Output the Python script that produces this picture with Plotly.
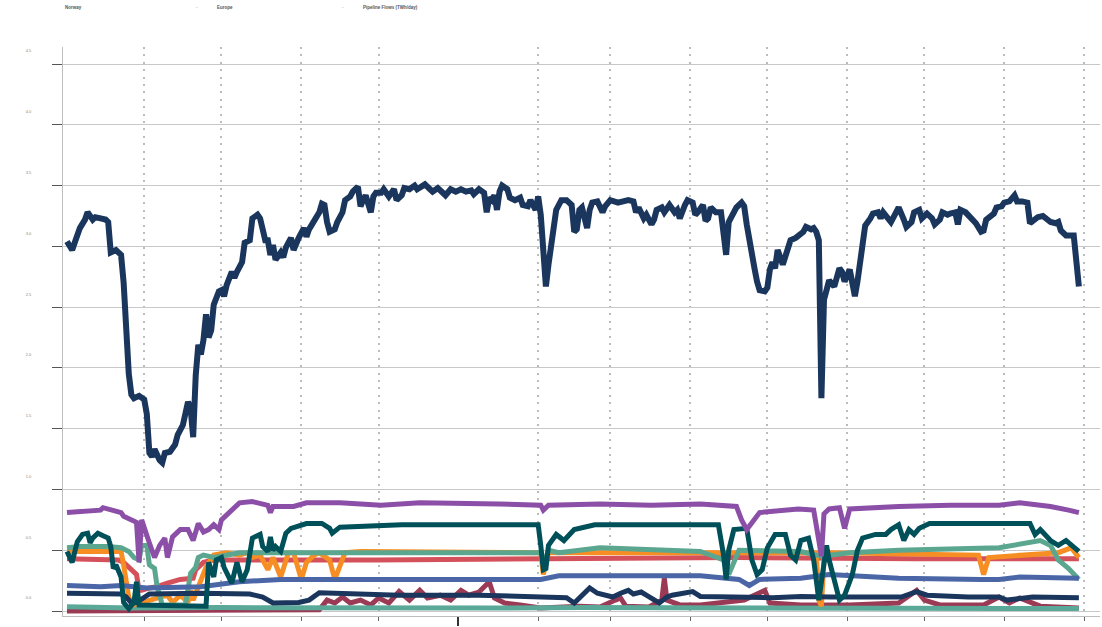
import pandas as pd
import plotly.graph_objects as go

# Daily pipeline flows from Norway to Europe (TWh/day); days counted from the start date
START = pd.Timestamp("2020-08-02")

total_days = [0, 2, 5, 7, 8, 10, 11, 13, 15, 16, 17, 19, 21, 22, 23, 24, 25, 26, 28, 30,
              31, 32, 33, 34, 36, 37, 38, 40, 42, 43, 45, 46, 47, 48, 49, 50, 51, 52, 53, 54,
              55, 56, 57, 59, 60, 61, 62, 64, 65, 66, 68, 69, 71, 72, 74, 75, 77, 78, 79, 80,
              81, 83, 84, 85, 87, 88, 89, 90, 92, 93, 94, 96, 98, 99, 100, 101, 102, 104, 105, 107,
              108, 110, 111, 113, 114, 115, 116, 118, 119, 120, 122, 123, 125, 127, 128, 130, 131, 133, 135, 136,
              138, 139, 141, 142, 144, 146, 147, 149, 151, 153, 155, 157, 158, 160, 162, 163, 164, 165, 166, 167,
              168, 169, 171, 172, 174, 176, 177, 179, 180, 182, 183, 184, 185, 186, 187, 188, 189, 190, 192, 194,
              196, 197, 198, 199, 200, 202, 203, 204, 206, 208, 209, 211, 214, 216, 218, 220, 221, 222, 224, 225,
              227, 228, 229, 231, 232, 234, 236, 237, 238, 240, 241, 243, 244, 245, 247, 248, 249, 250, 252, 254,
              255, 256, 257, 259, 260, 262, 263, 264, 266, 267, 268, 269, 271, 272, 273, 274, 275, 276, 278, 279,
              280, 281, 283, 284, 286, 287, 289, 290, 291, 292, 293, 294, 295, 296, 298, 299, 300, 301, 302, 304,
              305, 306, 307, 309, 310, 312, 313, 315, 316, 317, 319, 320, 322, 323, 325, 326, 328, 329, 331, 332,
              334, 336, 337, 339, 340, 342, 343, 345, 346, 347, 349, 351, 353, 355, 356, 357, 360, 361, 363, 364,
              366, 368, 369, 371, 373, 374, 375, 377, 379, 381, 382, 384, 385, 386, 388, 391, 393]
total_vals = [3.04, 2.97, 3.15, 3.22, 3.28, 3.22, 3.24, 3.23, 3.22, 3.20, 2.95, 2.97, 2.93, 2.70, 2.30, 1.95, 1.78, 1.75, 1.77, 1.74,
              1.62, 1.30, 1.27, 1.33, 1.24, 1.22, 1.30, 1.31, 1.37, 1.45, 1.53, 1.65, 1.72, 1.67, 1.43, 1.94, 2.19, 2.11, 2.23, 2.44,
              2.25, 2.31, 2.52, 2.63, 2.64, 2.59, 2.68, 2.79, 2.74, 2.79, 2.87, 3.03, 3.05, 3.23, 3.26, 3.23, 3.05, 3.05, 2.93, 3.01,
              2.89, 2.95, 2.91, 2.99, 3.07, 2.97, 3.03, 3.07, 3.15, 3.08, 3.14, 3.20, 3.28, 3.35, 3.34, 3.20, 3.12, 3.14, 3.20, 3.28,
              3.38, 3.41, 3.45, 3.49, 3.33, 3.38, 3.42, 3.28, 3.41, 3.44, 3.44, 3.47, 3.41, 3.47, 3.38, 3.42, 3.48, 3.47, 3.50, 3.47,
              3.49, 3.51, 3.47, 3.45, 3.48, 3.45, 3.42, 3.47, 3.45, 3.47, 3.45, 3.46, 3.43, 3.47, 3.44, 3.28, 3.40, 3.38, 3.42, 3.30,
              3.45, 3.50, 3.47, 3.40, 3.38, 3.40, 3.34, 3.33, 3.38, 3.30, 3.41, 3.26, 2.97, 2.67, 2.85, 3.01, 3.15, 3.30, 3.38, 3.38,
              3.34, 3.12, 3.14, 3.30, 3.32, 3.15, 3.30, 3.36, 3.37, 3.28, 3.33, 3.38, 3.36, 3.37, 3.38, 3.37, 3.28, 3.32, 3.23, 3.26,
              3.18, 3.22, 3.30, 3.32, 3.28, 3.34, 3.28, 3.30, 3.23, 3.34, 3.38, 3.36, 3.26, 3.28, 3.34, 3.21, 3.23, 3.32, 3.28, 3.28,
              3.05, 2.93, 3.20, 3.28, 3.32, 3.36, 3.33, 3.18, 2.89, 2.82, 2.71, 2.64, 2.63, 2.66, 2.81, 2.87, 2.82, 2.97, 2.85, 2.91,
              2.97, 3.05, 3.07, 3.09, 3.12, 3.16, 3.14, 3.15, 3.12, 3.05, 1.75, 2.56, 2.66, 2.72, 2.67, 2.74, 2.82, 2.79, 2.71, 2.81,
              2.66, 2.59, 2.71, 2.97, 3.17, 3.23, 3.27, 3.28, 3.23, 3.28, 3.22, 3.20, 3.28, 3.32, 3.22, 3.16, 3.20, 3.28, 3.30, 3.23,
              3.27, 3.23, 3.18, 3.22, 3.28, 3.26, 3.27, 3.28, 3.18, 3.30, 3.28, 3.24, 3.19, 3.12, 3.13, 3.22, 3.27, 3.32, 3.33, 3.36,
              3.37, 3.42, 3.37, 3.37, 3.36, 3.19, 3.21, 3.24, 3.25, 3.22, 3.20, 3.19, 3.20, 3.13, 3.09, 3.09, 2.67]

purple_days = [0, 5, 13, 14, 21, 22, 26, 27, 28, 29, 32, 34, 36, 38, 39, 41, 44, 47, 49, 51,
               53, 55, 57, 59, 60, 62, 65, 67, 72, 78, 79, 80, 88, 93, 106, 122, 137, 153, 168, 184,
               185, 187, 207, 227, 246, 260, 262, 264, 266, 268, 269, 284, 290, 292, 293, 294, 296, 300, 302, 304,
               323, 343, 362, 370, 382, 389, 393]
purple_vals = [0.81, 0.82, 0.83, 0.85, 0.81, 0.78, 0.74, 0.73, 0.40, 0.75, 0.56, 0.44, 0.54, 0.60, 0.44, 0.61, 0.67, 0.67, 0.58, 0.72,
               0.65, 0.67, 0.71, 0.67, 0.75, 0.79, 0.86, 0.89, 0.90, 0.87, 0.81, 0.86, 0.86, 0.89, 0.89, 0.87, 0.89, 0.89, 0.88, 0.87,
               0.83, 0.87, 0.88, 0.87, 0.88, 0.86, 0.75, 0.67, 0.73, 0.79, 0.81, 0.84, 0.83, 0.58, 0.45, 0.80, 0.84, 0.85, 0.68, 0.84,
               0.86, 0.87, 0.87, 0.89, 0.86, 0.83, 0.81]

deep_teal_days = [0, 2, 4, 6, 8, 9, 10, 12, 14, 16, 17, 18, 19, 21, 22, 24, 26, 27, 28, 54,
                  55, 57, 58, 60, 61, 63, 64, 66, 67, 68, 70, 72, 75, 76, 78, 79, 80, 81, 83, 84,
                  85, 87, 89, 93, 99, 102, 103, 105, 106, 130, 160, 183, 184, 185, 186, 187, 190, 193, 197, 205,
                  230, 253, 255, 256, 257, 259, 264, 266, 268, 270, 272, 275, 279, 281, 283, 285, 288, 290, 292, 293,
                  295, 296, 298, 300, 302, 305, 307, 309, 314, 318, 320, 323, 325, 327, 329, 331, 335, 355, 374, 376,
                  378, 382, 385, 388, 390, 393]
deep_teal_vals = [0.49, 0.40, 0.57, 0.63, 0.64, 0.56, 0.60, 0.64, 0.62, 0.60, 0.53, 0.35, 0.38, 0.28, 0.07, 0.02, 0.07, 0.24, 0.05, 0.04,
                  0.40, 0.28, 0.42, 0.44, 0.36, 0.26, 0.23, 0.40, 0.31, 0.24, 0.34, 0.60, 0.63, 0.53, 0.49, 0.61, 0.50, 0.53, 0.49, 0.57,
                  0.64, 0.68, 0.69, 0.72, 0.72, 0.68, 0.64, 0.67, 0.69, 0.71, 0.71, 0.71, 0.54, 0.34, 0.35, 0.54, 0.63, 0.58, 0.67, 0.71,
                  0.71, 0.71, 0.46, 0.26, 0.50, 0.67, 0.68, 0.42, 0.30, 0.34, 0.52, 0.63, 0.63, 0.46, 0.42, 0.58, 0.60, 0.42, 0.09, 0.26,
                  0.54, 0.42, 0.27, 0.09, 0.13, 0.30, 0.50, 0.60, 0.63, 0.63, 0.67, 0.71, 0.58, 0.67, 0.63, 0.68, 0.72, 0.72, 0.72, 0.63,
                  0.67, 0.58, 0.54, 0.58, 0.54, 0.49]

sea_green_days = [0, 5, 16, 21, 24, 26, 28, 29, 31, 32, 34, 35, 37, 44, 46, 48, 50, 51, 53, 57,
                  61, 67, 100, 140, 184, 185, 187, 191, 207, 246, 255, 257, 261, 285, 293, 304, 323, 362, 378, 382,
                  385, 389, 393]
sea_green_vals = [0.52, 0.53, 0.53, 0.52, 0.49, 0.44, 0.42, 0.54, 0.54, 0.38, 0.35, 0.20, 0.05, 0.05, 0.05, 0.31, 0.36, 0.44, 0.46, 0.44,
                  0.46, 0.48, 0.48, 0.48, 0.48, 0.38, 0.50, 0.48, 0.52, 0.49, 0.42, 0.30, 0.50, 0.49, 0.45, 0.48, 0.50, 0.52, 0.58, 0.54,
                  0.42, 0.35, 0.26]

orange_days = [0, 21, 22, 23, 24, 26, 39, 41, 44, 47, 48, 49, 52, 54, 57, 62, 67, 70, 72, 75,
               78, 80, 83, 86, 88, 91, 93, 96, 98, 102, 104, 106, 108, 114, 184, 185, 187, 291, 292, 293,
               294, 296, 354, 356, 358, 385, 390, 393]
orange_vals = [0.49, 0.49, 0.38, 0.23, 0.11, 0.05, 0.13, 0.07, 0.13, 0.07, 0.17, 0.09, 0.26, 0.36, 0.46, 0.48, 0.46, 0.48, 0.44, 0.46,
               0.34, 0.44, 0.28, 0.48, 0.48, 0.26, 0.40, 0.46, 0.48, 0.42, 0.26, 0.38, 0.48, 0.49, 0.48, 0.30, 0.48, 0.48, 0.09, 0.04,
               0.42, 0.48, 0.46, 0.30, 0.44, 0.48, 0.52, 0.44]

red_days = [0, 20, 22, 25, 27, 28, 29, 32, 35, 39, 44, 49, 50, 53, 57, 120, 190, 260, 330, 393]
red_vals = [0.43, 0.42, 0.40, 0.34, 0.30, 0.17, 0.17, 0.19, 0.20, 0.23, 0.26, 0.27, 0.34, 0.40, 0.42, 0.42, 0.43, 0.44, 0.43, 0.43]

blue_days = [0, 13, 21, 31, 52, 67, 83, 106, 149, 184, 191, 246, 261, 265, 269, 285, 296, 323, 355, 362, 370, 393]
blue_vals = [0.21, 0.20, 0.21, 0.19, 0.20, 0.24, 0.26, 0.26, 0.27, 0.26, 0.29, 0.29, 0.26, 0.21, 0.26, 0.27, 0.30, 0.27, 0.26, 0.26, 0.28, 0.27]

navy_days = [0, 13, 21, 23, 25, 27, 30, 32, 52, 71, 76, 78, 80, 90, 94, 98, 114, 129, 160, 194,
             197, 200, 203, 206, 212, 215, 218, 220, 223, 225, 228, 230, 233, 235, 243, 246, 259, 274, 285, 297,
             324, 330, 334, 350, 362, 365, 375, 393]
navy_vals = [0.146, 0.146, 0.14, 0.115, 0.066, 0.07, 0.115, 0.14, 0.146, 0.14, 0.115, 0.09, 0.066, 0.07, 0.09, 0.15, 0.14, 0.13, 0.13, 0.11,
             0.066, 0.13, 0.19, 0.146, 0.115, 0.146, 0.17, 0.14, 0.156, 0.13, 0.09, 0.066, 0.115, 0.13, 0.16, 0.12, 0.115, 0.11, 0.12, 0.115,
             0.115, 0.16, 0.13, 0.115, 0.115, 0.09, 0.115, 0.11]

maroon_days = [0, 60, 98, 101, 104, 107, 110, 114, 118, 121, 125, 129, 133, 137, 140, 145, 149, 153, 156, 160,
               163, 164, 166, 170, 176, 184, 199, 207, 213, 215, 217, 226, 231, 232, 233, 238, 246, 263, 271, 273,
               285, 304, 323, 327, 330, 333, 339, 356, 362, 366, 370, 378, 393]
maroon_vals = [0.0, 0.0, 0.01, 0.09, 0.066, 0.115, 0.066, 0.09, 0.05, 0.107, 0.066, 0.16, 0.09, 0.17, 0.107, 0.13, 0.09, 0.17, 0.13, 0.156,
               0.21, 0.24, 0.107, 0.066, 0.05, 0.025, 0.04, 0.033, 0.09, 0.107, 0.04, 0.033, 0.09, 0.27, 0.09, 0.05, 0.05, 0.09, 0.17, 0.066,
               0.05, 0.05, 0.066, 0.13, 0.17, 0.09, 0.05, 0.05, 0.115, 0.066, 0.107, 0.04, 0.025]

mint_days = [0, 25, 60, 90, 130, 168, 200, 240, 285, 330, 360, 393]
mint_vals = [0.035, 0.025, 0.028, 0.025, 0.027, 0.025, 0.028, 0.026, 0.025, 0.027, 0.025, 0.02]

# Month starts for the x ticks; the year boundary gets its own heavier tick
month_ticks = ["2020-09-01", "2020-10-01", "2020-11-01", "2020-12-01", "2021-02-01", "2021-03-01",
               "2021-04-01", "2021-05-01", "2021-06-01", "2021-07-01", "2021-08-01", "2021-09-01"]
year_ticks = ["2021-01-01"]
y_ticks = [0.0, 0.5, 1.0, 1.5, 2.0, 2.5, 3.0, 3.5, 4.0, 4.5]


def to_dates(days):
    return START + pd.to_timedelta(days, unit="D")


series = [
    ("Dornum/Emden (minor)", maroon_days, maroon_vals, "#9b3a55", 5),
    ("Easington (minor)", mint_days, mint_vals, "#5aa898", 5),
    ("Zeebrugge", red_days, red_vals, "#d4505a", 5),
    ("Dunkerque", orange_days, orange_vals, "#f68e24", 5),
    ("Emden", sea_green_days, sea_green_vals, "#5ba68f", 5),
    ("St Fergus", blue_days, blue_vals, "#4a66a6", 5),
    ("Other", navy_days, navy_vals, "#1b365d", 5),
    ("Easington", deep_teal_days, deep_teal_vals, "#00505a", 5),
    ("Dornum", purple_days, purple_vals, "#8c4fa8", 5),
    ("Norway total", total_days, total_vals, "#1b365d", 6),
]

fig = go.Figure()
for name, days, vals, color, width in series:
    fig.add_trace(go.Scatter(
        x=to_dates(days), y=vals, mode="lines", name=name,
        line=dict(color=color, width=width), showlegend=False,
    ))

x_lo = START - pd.Timedelta(days=1.55)
x_hi = START + pd.Timedelta(days=401.2)

fig.update_layout(
    width=1102, height=627,
    margin=dict(l=63, r=2, t=47, b=11),
    paper_bgcolor="white", plot_bgcolor="white",
    font=dict(family="Liberation Sans, Arial, sans-serif"),
    xaxis=dict(
        type="date", range=[x_lo, x_hi],
        tickmode="array", tickvals=year_ticks, showticklabels=False,
        ticks="outside", ticklen=9, tickwidth=2, tickcolor="#333333",
        showgrid=False, zeroline=False,
        showline=True, linecolor="#bdbdbd", linewidth=1,
        minor=dict(
            tickmode="array", tickvals=month_ticks,
            ticks="outside", ticklen=4, tickwidth=1, tickcolor="#666666",
            showgrid=True, gridcolor="#bcbcbc", gridwidth=2, griddash="2px,5.4px",
        ),
    ),
    yaxis=dict(
        range=[-0.041, 4.64],
        tickmode="array", tickvals=y_ticks, ticktext=[f"{v:.1f}" for v in y_ticks],
        tickfont=dict(size=4, color="#888888"),
        ticklabelshift=-13, ticklabelstandoff=20,
        ticks="outside", ticklen=10, tickwidth=1, tickcolor="#555555",
        showgrid=True, gridcolor="#c8c8c8", gridwidth=1, zeroline=False,
        showline=True, linecolor="#bdbdbd", linewidth=1,
    ),
)

# Header row
header = [("Norway", 63), ("-", 194), ("Europe", 215), ("-", 340), ("Pipeline Flows (TWh/day)", 361)]
for text, px in header:
    fig.add_annotation(
        text=f"<b>{text}</b>", xref="paper", yref="paper",
        x=(px - 63) / 1037, y=1 + (47 - 7) / 569,
        xanchor="left", yanchor="middle", showarrow=False,
        font=dict(size=4.5, color="#555555" if text != "-" else "#bbbbbb"),
    )

# Latest value tag at the end of the total line
fig.add_annotation(
    x=to_dates([total_days[-1]])[0], y=total_vals[-1], text=f"<b>{total_vals[-1]:.2f}</b>",
    xanchor="left", yanchor="middle", xshift=22, showarrow=False,
    font=dict(size=5, color="#1b365d"),
)

fig.write_html("out.html")
